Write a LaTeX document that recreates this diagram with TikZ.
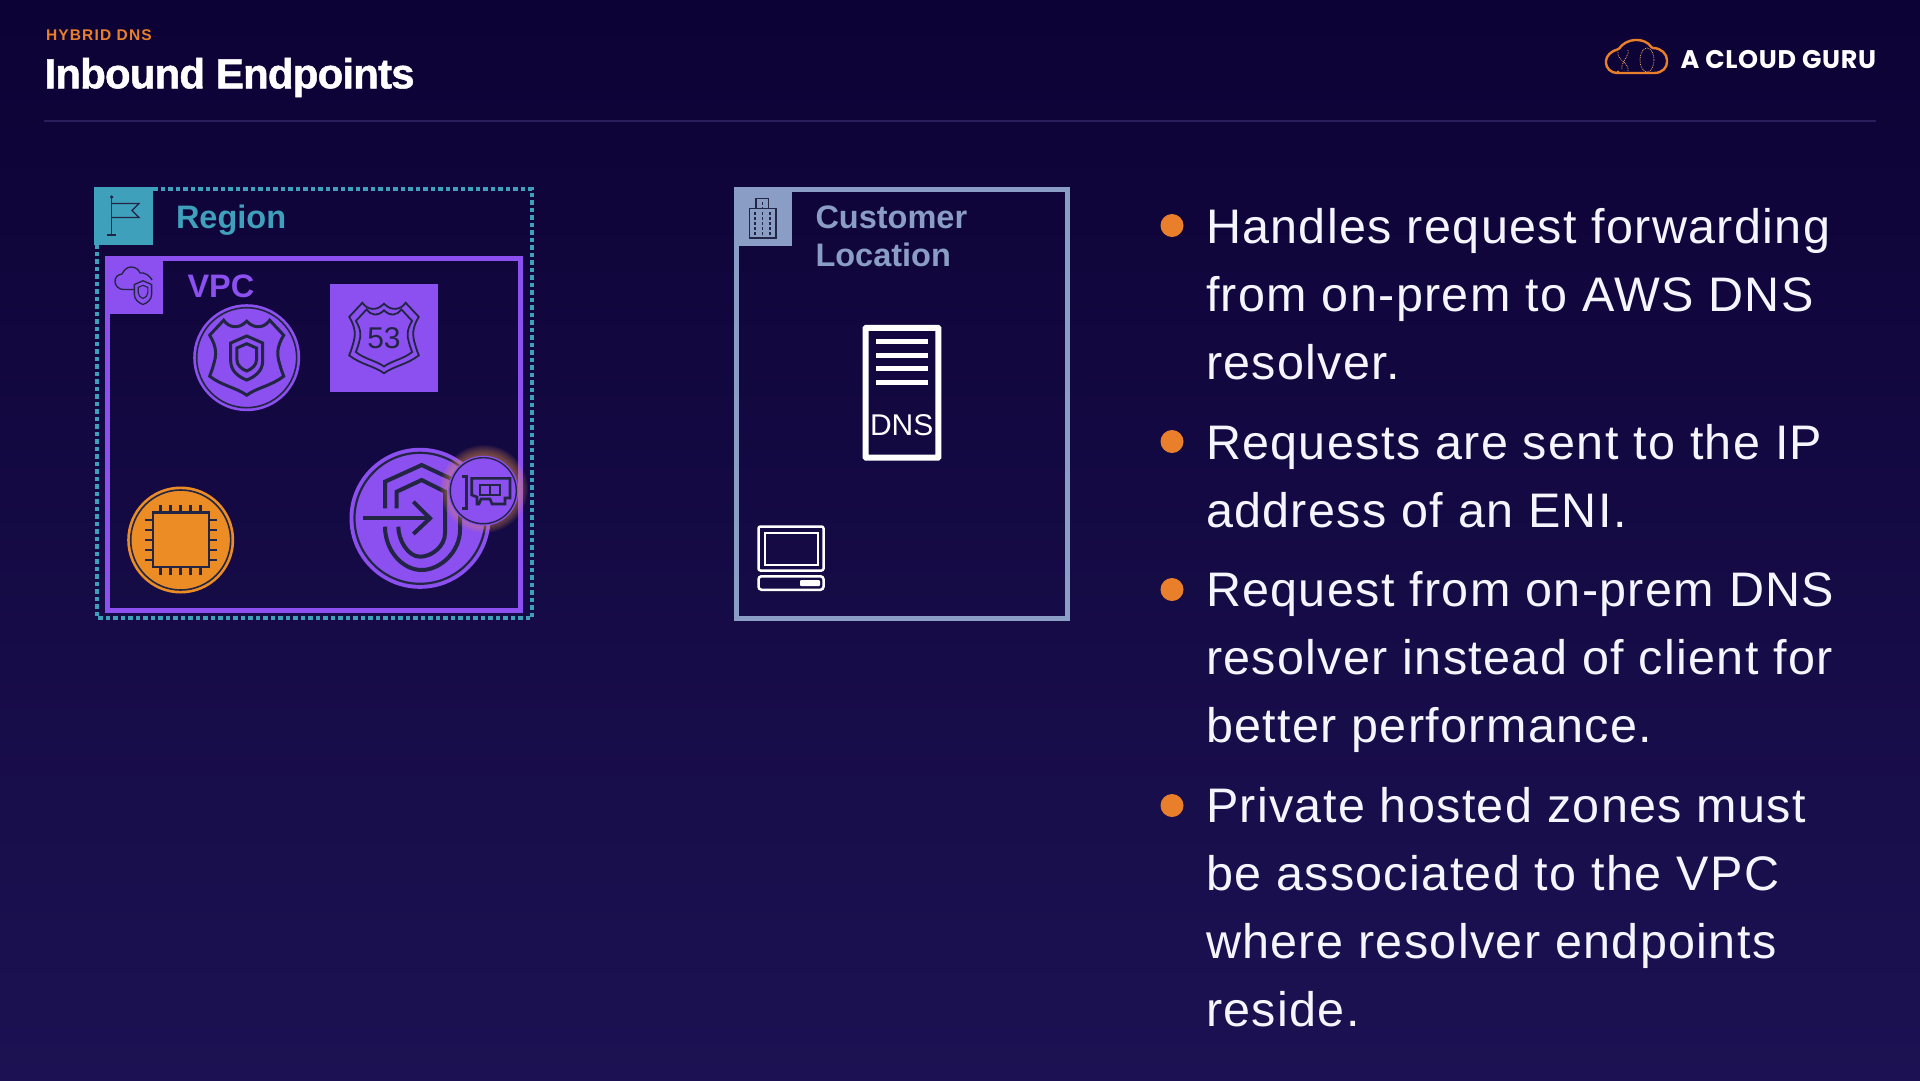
\documentclass[tikz,border=0pt]{standalone}
\usepackage{fontspec}
\setmainfont{Liberation Sans}
\newfontfamily\bodyfont[LetterSpace=2.8]{Liberation Sans}
\newfontfamily\titlefont[LetterSpace=-2, BoldFeatures={FakeBold=1.2}]{Liberation Sans}
\newfontfamily\kickerfont[LetterSpace=7.5]{Liberation Sans}
\newfontfamily\logofont[LetterSpace=2.5]{Poppins}
\usetikzlibrary{arrows.meta, positioning, calc}

\definecolor{bgtop}{HTML}{0D0235}
\definecolor{bgbottom}{HTML}{1C1253}
\definecolor{regionblue}{HTML}{3FA0BC}
\definecolor{vpcpurple}{HTML}{8C4FF0}
\definecolor{customerblue}{HTML}{8A9DC4}
\definecolor{chiporange}{HTML}{EC8C24}
\definecolor{accentorange}{HTML}{E97F2A}
\definecolor{iconink}{HTML}{232545}
\definecolor{rulegray}{HTML}{2A1F5C}

\begin{document}
\begin{tikzpicture}[x=1pt, y=-1pt,
  every node/.style={inner sep=0pt, outer sep=0pt},
  tag/.style={rectangle, minimum width=#1, minimum height=#1},
  disc/.style={circle, fill=vpcpurple, minimum size=#1},
  ink/.style={draw=iconink, line join=miter},
  bullettext/.style={anchor=north west, align=left, text=white!96!blue,
    font=\bodyfont\fontsize{48.5}{68}\selectfont},
  bulletdot/.style={circle, fill=accentorange, minimum size=23pt},
  boxlabel/.style={anchor=base west, font=\bfseries\fontsize{32.5}{38.7}\selectfont},
  badge/.pic={
    \draw[ink] (-37,-22.5) -- (-23,-37.5) .. controls (-18,-30) and (-8,-28) .. (0,-36.5)
      .. controls (8,-28) and (18,-30) .. (23,-37.5) -- (37,-22.5)
      .. controls (30,-11) and (30,-3) .. (33,6.5) .. controls (35,14) and (37,18) .. (37,18.5)
      .. controls (25,28) and (10,30) .. (0,37.5)
      .. controls (-10,30) and (-25,28) .. (-37,18.5) .. controls (-37,18) and (-35,14) .. (-33,6.5)
      .. controls (-30,-3) and (-30,-11) .. (-37,-22.5) -- cycle;
  },
  guard/.pic={
    \draw[ink] (0,-19) -- (16,-12) -- (16,6) .. controls (16,16) and (8,22) .. (0,25)
      .. controls (-8,22) and (-16,16) .. (-16,6) -- (-16,-12) -- cycle;
  }
]
\useasboundingbox (0,0) rectangle (1920,1080);
\shade[top color=bgtop, bottom color=bgbottom] (0,0) rectangle (1920,1080);

% Heading
\node[anchor=base west, text=accentorange, font=\kickerfont\bfseries\fontsize{15.5}{18}\selectfont] (kicker) at (46,40.7) {HYBRID DNS};
\node[anchor=base west, text=white, font=\titlefont\bfseries\fontsize{42}{48}\selectfont] (title) at (44.5,88.3) {Inbound Endpoints};
\node[anchor=base east, text=white, font=\logofont\bfseries\fontsize{25.5}{26}\selectfont] (logotext) at (1876,68.3) {A CLOUD GURU};
\draw[rulegray, line width=2pt] (44,121) -- (1876,121);

% Logo cloud
\draw[accentorange, line width=2.4pt, rounded corners=1pt] (1618,73) -- (1653,73)
  .. controls (1663,73) and (1667,67) .. (1667,61) .. controls (1667,54) and (1661,48) .. (1652,48)
  .. controls (1648,42) and (1642,40) .. (1636,40) .. controls (1629,40) and (1622,44) .. (1619,49)
  .. controls (1611,51) and (1606,56) .. (1606,62) .. controls (1606,68) and (1611,73) .. (1618,73) -- cycle;
\draw[accentorange!70!white, densely dotted, line width=.8pt] (1647,60) ellipse (7 and 12);
\draw[accentorange!70!white, densely dotted, line width=.8pt] (1618,52) .. controls (1616,60) and (1630,62) .. (1628,72);
\draw[accentorange!70!white, densely dotted, line width=.8pt] (1628,50) .. controls (1630,56) and (1620,62) .. (1622,70);

% Region box
\draw[regionblue, line width=4.5pt, dash pattern=on 4.5pt off 3pt] (153,189) -- (532,189) -- (532,618) -- (97,618) -- (97,245);
\node[tag=58.5pt, fill=regionblue] (regiontag) at (123.5,216) {};
\node[boxlabel, text=regionblue] (regionlabel) at (176,228) {Region};
\draw[ink, line width=1.4pt] (111.7,197) -- (111.7,235);
\draw[ink, line width=1.4pt] (106.7,235) -- (116,235);
\draw[ink, line width=1.4pt] (111.7,203.5) -- (139,203.5) -- (132,210.5) -- (139,217.5) -- (111.7,217.5);
\fill[iconink] (111.7,197) circle (1.8);

% VPC box
\draw[vpcpurple, line width=5pt] (107.5,258.5) rectangle (520.5,610.5);
\node[tag=58pt, fill=vpcpurple] (vpctag) at (134,285) {};
\node[boxlabel, text=vpcpurple] (vpclabel) at (187.5,297) {VPC};
\draw[ink, line width=1.3pt] (134,289.5) -- (124,289.5) .. controls (117,289.5) and (115,284) .. (115,281.5)
  .. controls (115,277) and (118,274.5) .. (122,274) .. controls (124,270) and (127,267) .. (131,267)
  .. controls (136,267) and (139,270) .. (140,273) .. controls (145,272) and (150,276) .. (152,280);
\pic[line width=1.3pt, scale=.54] at (143,291) {guard};
\pic[line width=1.1pt, scale=.3] at (143,291) {guard};

% Route 53 hosted zone
\node[tag=108pt, fill=vpcpurple] (routetag) at (384,338) {};
\pic[line width=1.8pt, scale=.94] at (384,338) {badge};
\pic[line width=1.8pt, scale=.76] at (384,338) {badge};
\node[text=iconink, font=\fontsize{30}{32}\selectfont] (routetext) at (384,338) {53};

% Resolver shield
\node[disc=107pt] (resolver) at (246.7,357.7) {};
\draw[ink, line width=1.6pt] (resolver) circle (50);
\pic[line width=3pt] at (246.7,357.7) {badge};
\pic[line width=3pt] at (246.7,355) {guard};
\pic[line width=3pt, scale=.62] at (246.7,355.5) {guard};

% EC2 instance
\node[disc=107pt, fill=chiporange] (instance) at (180.7,540) {};
\draw[ink, line width=1.6pt] (instance) circle (50);
\draw[ink, line width=2.8pt] (153,512.5) rectangle (209,567);
\foreach \d in {-20,-10,0,10,20} {
  \draw[ink, line width=2.5pt] ($(instance)+(\d,-27.5)$) -- ++(0,-8);
  \draw[ink, line width=2.5pt] ($(instance)+(\d,27)$) -- ++(0,8);
  \draw[ink, line width=2.5pt] ($(instance)+(-28,\d)$) -- ++(-8,0);
  \draw[ink, line width=2.5pt] ($(instance)+(28,\d)$) -- ++(8,0);
}

% Inbound endpoint with network interface
\node[disc=141pt] (endpoint) at (420,518.3) {};
\draw[ink, line width=2.2pt] (endpoint) circle (65.5);
\draw[ink, line width=4pt] (385,508.3) -- (385,481.7) -- (421.7,465) -- (460,483) -- (460,530)
  .. controls (460,552) and (440,570) .. (421.7,570) .. controls (402,570) and (385,550) .. (385,526.7);
\draw[ink, line width=4pt] (396.7,508.3) -- (396.7,491.7) -- (421.7,480) -- (445,491.7) -- (445,533.3)
  .. controls (445,546) and (432,556.7) .. (420,556.7) .. controls (408,556.7) and (398.3,540) .. (398.3,526.7);
\draw[ink, line width=4pt] (363.3,518.3) -- (430,518.3);
\draw[ink, line width=4pt] (413.3,501.7) -- (430,518.3) -- (413.3,534);
\foreach \r in {44,43,...,35} {
  \fill[accentorange!80!white, opacity=.06] (484,489) circle (\r);
}
\node[disc=70pt] (eni) at (483.3,490.7) {};
\draw[ink, line width=1.4pt] (eni) circle (33);
\draw[ink, line width=2.6pt] (461.7,476.7) -- (466.7,476.7) -- (466.7,508.3) -- (461.7,508.3);
\draw[ink, line width=2.6pt] (471.7,478.3) -- (510,478.3) -- (510,498) -- (505,498) -- (505,504) -- (492,504) -- (490,499) -- (481,499) -- (479,504) -- (477,504) -- (477,497) -- (471.7,495) -- cycle;
\draw[ink, line width=2.6pt] (480,485) rectangle (500,495) (490,485) -- (490,495);

% Customer box
\draw[customerblue, line width=5pt] (736.5,189.5) rectangle (1067.5,618);
\node[tag=58pt, fill=customerblue] (customertag) at (763,216.5) {};
\node[boxlabel, anchor=north west, text=customerblue, align=left] (customerlabel) at (815.5,201) {\strut Customer\\\strut Location};
\draw[ink, line width=1.3pt] (749.3,238) rectangle (776,208.5) (756,208.5) -- (756,198.3) -- (768.7,198.3) -- (768.7,208.5);
\foreach \wx in {755,762.7,770} {
  \draw[ink, line width=1.2pt, dash pattern=on 2.5pt off 2.5pt] (\wx,212) -- (\wx,235);
}
\draw[ink, line width=1.2pt, dash pattern=on 2.5pt off 2.5pt] (762.7,202) -- (762.7,208);

% DNS server
\node[draw=white, line width=6pt, rounded corners=.5pt, minimum width=72.6pt, minimum height=129.7pt] (dnsbox) at (902,392.8) {};
\foreach \ly in {341.7,355,368.3,382} {
  \draw[white, line width=5pt] (876,\ly) -- (928,\ly);
}
\node[anchor=base, text=white, font=\fontsize{30}{32}\selectfont] (dnstext) at (901.7,435) {DNS};

% Client laptop
\node[draw=white, line width=2.5pt, rounded corners=2pt, minimum width=65pt, minimum height=44pt] (laptop) at (791,548.5) {};
\node[draw=white, line width=2.5pt, minimum width=53pt, minimum height=32pt] (screen) at (791.3,548.8) {};
\node[draw=white, line width=2.5pt, rounded corners=3pt, minimum width=65pt, minimum height=13.5pt] (keyboard) at (791,583) {};
\node[fill=white, minimum width=20pt, minimum height=6pt, rounded corners=1pt] (keybar) at (810,583) {};

% Bullet list
\node[bulletdot] (dota) at (1172,225.5) {};
\node[bullettext] (texta) at (1206,195.5) {\strut Handles request forwarding\\\strut from on-prem to AWS DNS\\\strut resolver.};
\node[bulletdot] (dotb) at (1172,441.5) {};
\node[bullettext] (textb) at (1206,411.5) {\strut Requests are sent to the IP\\\strut address of an ENI.};
\node[bulletdot] (dotc) at (1172,589.5) {};
\node[bullettext] (textc) at (1206,559) {\strut Request from on-prem DNS\\\strut resolver instead of client for\\\strut better performance.};
\node[bulletdot] (dotd) at (1172,805.5) {};
\node[bullettext] (textd) at (1206,775) {\strut Private hosted zones must\\\strut be associated to the VPC\\\strut where resolver endpoints\\\strut reside.};

\end{tikzpicture}
\end{document}
